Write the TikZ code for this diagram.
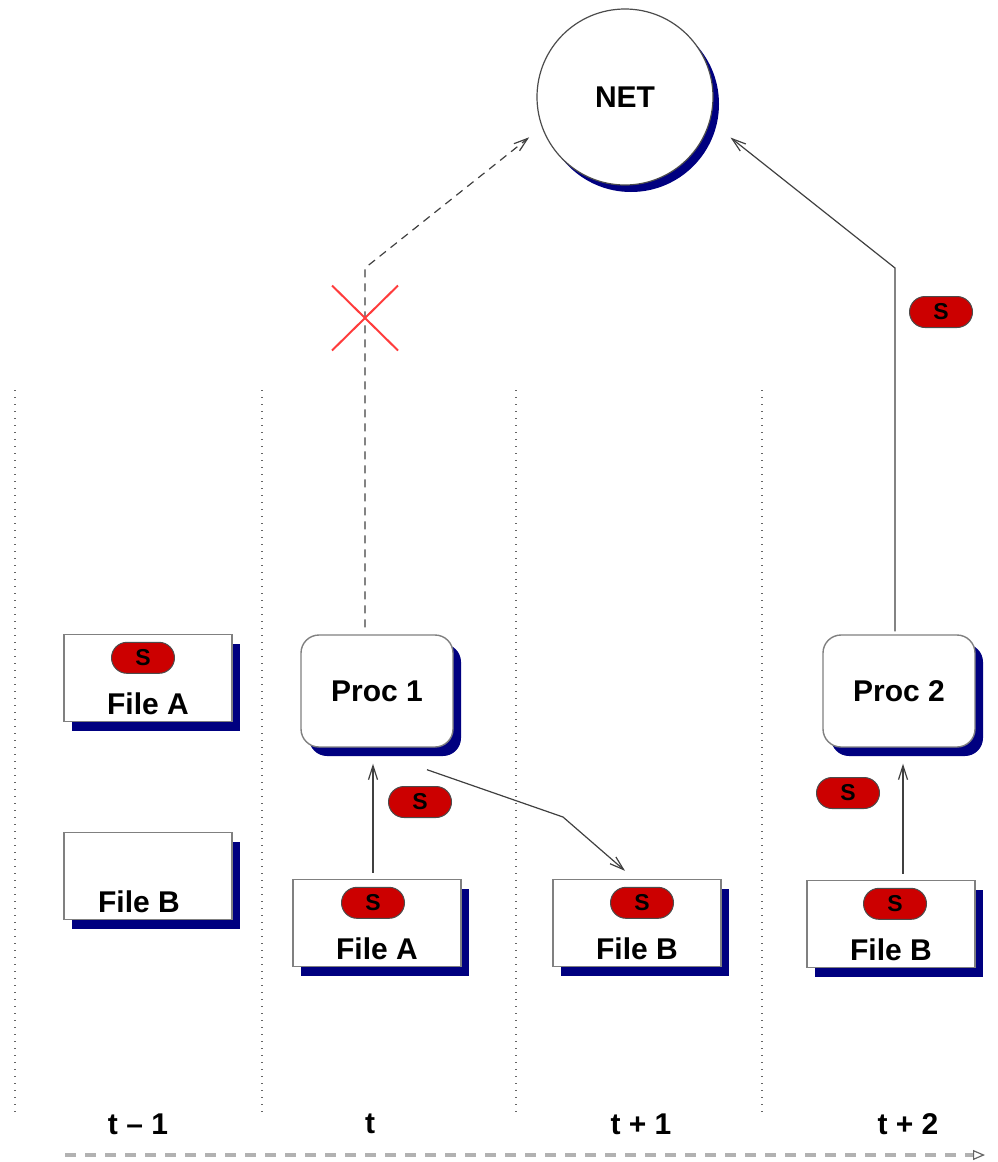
\documentclass[tikz,border=0pt]{standalone}
\usepackage{fontspec}
\setmainfont{Liberation Sans}
\usepackage{tikz}
\usetikzlibrary{arrows.meta,positioning,shadows,shapes.misc}
\definecolor{shadowblue}{RGB}{0,0,128}
\definecolor{tokenred}{RGB}{204,0,0}
\definecolor{crossred}{RGB}{255,60,60}

\begin{document}
\begin{tikzpicture}
              [x=0.5pt,y=-0.5pt,
                every node/.style={font=\bfseries\fontsize{15}{18}\selectfont,inner sep=0pt},
                blueshadow/.style={drop shadow={shadow xshift=4pt,shadow yshift=-4.5pt,fill=shadowblue,opacity=1}},
                filenode/.style={rectangle,draw=black!50,line width=0.7pt,fill=white,minimum width=84pt,minimum height=43.5pt,blueshadow},
                procnode/.style={rectangle,rounded corners=9pt,draw=black!50,line width=0.7pt,fill=white,minimum width=76pt,minimum height=56pt,blueshadow},
                token/.style={rounded rectangle,draw=black!70,line width=0.5pt,fill=tokenred,minimum width=31.5pt,minimum height=15.5pt,font=\bfseries\fontsize{11.5}{12}\selectfont},
                link/.style={draw=black!75,line width=0.6pt,-{Straight Barb[length=7pt,width=4.5pt]}},
                sep/.style={draw=black!60,line width=0.6pt,dash pattern=on 0.6pt off 2.9pt},
                timeline/.style={draw=black!30,line width=2pt,dash pattern=on 5.5pt off 4.5pt,-{Triangle[open,line width=0.6pt,length=6pt,width=5pt,color=black!60]}}]
              \useasboundingbox (0,0) rectangle (997,1162);
              % time slots
              \foreach \x in {15,262,516,762}
                \draw[sep] (\x,390) -- (\x,1112);
              \foreach \x/\t [count=\i] in {138/t – 1,370/t,641/t + 1,908/t + 2}
                \node (t\i) at (\x,1124) {\t};
              \coordinate (ts) at (65,1155);
              \coordinate (te) at (985,1155);
              \draw[timeline] (ts) -- (te);
              % network
              \node[circle,draw=black!70,line width=0.6pt,fill=white,minimum size=88pt,
                drop shadow={shadow xshift=3pt,shadow yshift=-3.5pt,fill=shadowblue,opacity=1}] (net) at (625,97) {NET};
              % slot t-1
              \node[filenode] (fa0) at (148,678) {};
              \node[token,below=4pt of fa0.north,xshift=-2.5pt] (sa0) {S};
              \node[above=3.5pt of fa0.south] (na0) {File A};
              \node[filenode] (fb0) at (148,876) {};
              \node[above=3.5pt of fb0.south,xshift=-4.5pt] (nb0) {File B};
              % slot t
              \node[procnode] (proc1) at (377,691) {Proc 1};
              \node[filenode] (fa1) at (377,923) {};
              \node[token,below=4pt of fa1.north,xshift=-2pt] (sa1) {S};
              \node[above=3.5pt of fa1.south] (na1) {File A};
              \node[token] (s1) at (420,802) {S};
              % slot t+1
              \node[filenode] (fb1) at (637,923) {};
              \node[token,below=4pt of fb1.north,xshift=2.5pt] (sb1) {S};
              \node[above=3.5pt of fb1.south] (nb1) {File B};
              % slot t+2
              \node[procnode] (proc2) at (899,691) {Proc 2};
              \node[filenode] (fb2) at (891,924) {};
              \node[token,below=4pt of fb2.north,xshift=2pt] (sb2) {S};
              \node[above=3.5pt of fb2.south] (nb2) {File B};
              \node[token] (s2) at (848,793) {S};
              \node[token] (s3) at (941,312) {S};
              % flows
              \coordinate (b1) at (365,268);
              \coordinate (b2) at (895,268);
              \coordinate (b3) at (563,817);
              \draw[link,dash pattern=on 4pt off 3pt,shorten >=8pt] ([xshift=-6pt,yshift=3.5pt]proc1.north) -- (b1) -- (net.200);
              \node[cross out,draw=crossred,line width=1pt,minimum width=32pt,minimum height=31.5pt] (stop) at (365,318) {};
              \draw[link,shorten >=13pt] ([xshift=-2pt,yshift=1.5pt]proc2.north) -- (b2) -- (net.344);
              \draw[link,shorten <=3pt,shorten >=8pt] ([xshift=-2pt]fa1.north) -- ([xshift=-2pt]fa1.north |- proc1.south);
              \draw[link] ([xshift=25pt,yshift=-11pt]proc1.south) -- (b3) -- ([xshift=-6pt,yshift=4pt]fb1.north);
              \draw[link,shorten <=3pt,shorten >=8pt] ([xshift=6pt]fb2.north) -- ([xshift=6pt]fb2.north |- proc2.south);
            \end{tikzpicture}
\end{document}
